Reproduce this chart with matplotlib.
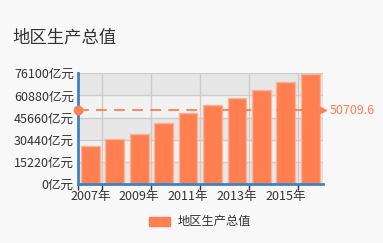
import matplotlib
matplotlib.use("Agg")
import matplotlib.pyplot as plt
from matplotlib.patches import Patch
import numpy as np

plt.rcParams['font.family'] = ['Noto Sans CJK SC', 'DejaVu Sans']

# data
years = ['2007年', '2008年', '2009年', '2010年', '2011年',
         '2012年', '2013年', '2014年', '2015年', '2016年']
gdp = [26050, 31060, 34750, 41830, 49150, 54160, 59440, 64920, 69930, 75806]
yticks = [0, 15220, 30440, 45660, 60880, 76100]
mean_value = 50709.6
series_name = '地区生产总值'

coral = '#ff7f50'
blue = '#3f84c0'
txt = '#333333'

fig = plt.figure(figsize=(3.83, 2.43), dpi=100, facecolor='#f8f8f8')
ax = fig.add_axes([78/383, 1-184.3/243, (322.5-78)/383, (184.3-73.3)/243])
ax.set_facecolor('#f8f8f8')

x = np.arange(len(years))
ax.set_xlim(-0.5, len(years)-0.5)
ax.set_ylim(0, yticks[-1])

# alternating split areas + grid
for k in range(len(yticks)-1):
    shade = '#e7e7e7' if (len(yticks)-2-k) % 2 == 0 else '#f2f2f2'
    ax.axhspan(yticks[k], yticks[k+1], color=shade, lw=0, zorder=0)
for v in yticks[1:]:
    ax.axhline(v, color='#cccccc', lw=1, zorder=0.5)
bounds = [-0.5] + list(np.arange(0.5, len(years), 2)) + [len(years)-0.5]
for b in bounds[1:]:
    ax.axvline(b, color='#cccccc', lw=1, zorder=0.5)

ax.bar(x, gdp, width=0.77, color=coral, edgecolor='#f6b59b', lw=1, zorder=2,
       label=series_name)

# average mark line
ax.plot([-0.5, len(years)-0.5], [mean_value, mean_value], color=coral, lw=1.3,
        dashes=(6, 4), zorder=3, clip_on=False)
ax.plot(-0.5, mean_value, 'o', color=coral, ms=6, zorder=6, clip_on=False)
ax.plot(len(years)-0.5, mean_value, '>', color=coral, ms=4, zorder=4, clip_on=False)
ax.annotate('{:.1f}'.format(mean_value), xy=(1, mean_value),
            xycoords=('axes fraction', 'data'), xytext=(5, 0),
            textcoords='offset points', va='center', ha='left',
            color=coral, fontsize=9)

# axes styling
for s in ['top', 'right']:
    ax.spines[s].set_visible(False)
ax.spines['left'].set_color(blue)
ax.spines['left'].set_linewidth(2)
ax.spines['bottom'].set_color(blue)
ax.spines['bottom'].set_linewidth(2)
ax.spines['left'].set_zorder(5)
ax.spines['bottom'].set_zorder(5)

ax.set_yticks(yticks)
ax.set_yticklabels(['{}亿元'.format(v) for v in yticks], fontsize=9, color=txt)
ax.tick_params(axis='y', length=0, pad=3)

ax.set_xticks(x[::2])
ax.set_xticklabels(years[::2], fontsize=9, color=txt)
ax.set_xticks(bounds[:-1], minor=True)
ax.tick_params(axis='x', which='major', length=0, pad=4)
ax.tick_params(axis='x', which='minor', length=4, width=1, color=txt)

fig.text(12/383, 1-38/243, series_name, fontsize=12.5, color=txt, va='center', ha='left')

fig.legend(handles=[Patch(facecolor=coral, edgecolor=coral, label=series_name)],
           loc='center', bbox_to_anchor=(200/383, 1-222/243), frameon=False,
           fontsize=8.8, handlelength=1.7, handleheight=0.8, handletextpad=0.6,
           labelcolor=txt)

fig.savefig('out.png', dpi=100, facecolor=fig.get_facecolor())
